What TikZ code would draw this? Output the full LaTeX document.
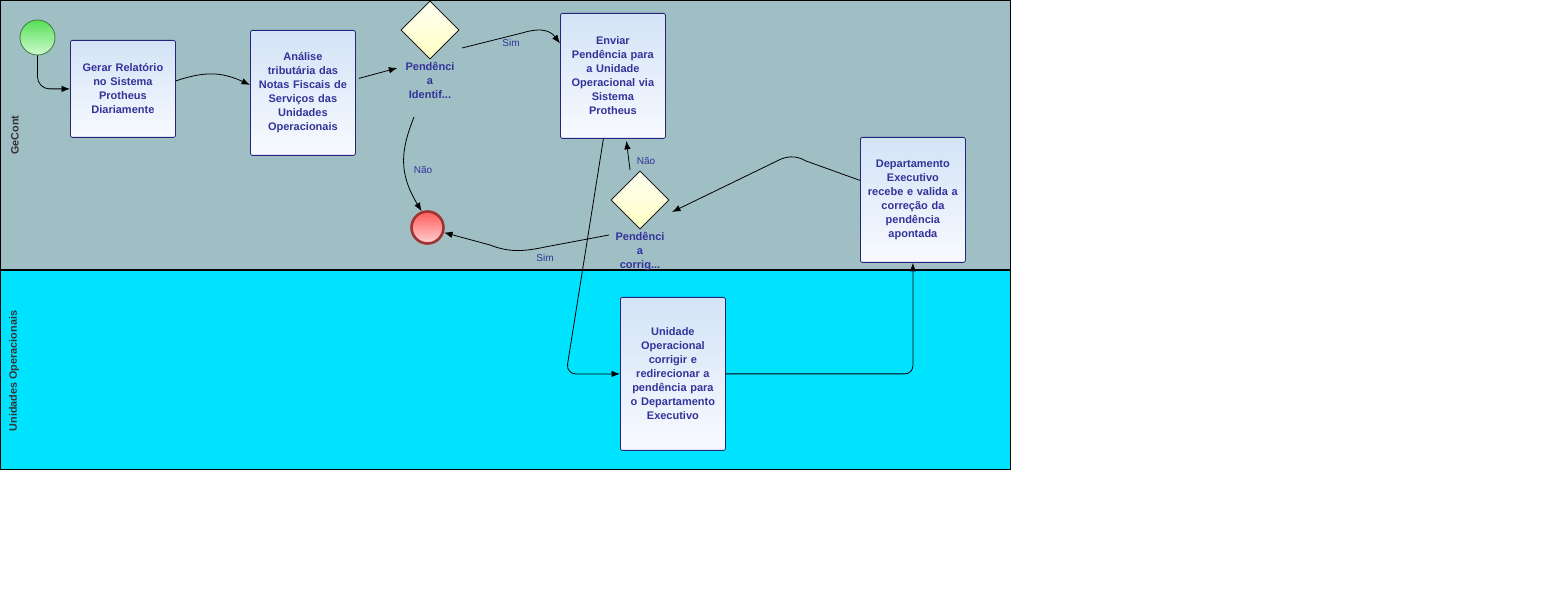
\documentclass[tikz,border=0pt]{standalone}
\usepackage{fontspec}
\setmainfont{Liberation Sans}
\usetikzlibrary{arrows.meta,shapes.geometric}
\definecolor{laneA}{HTML}{A0BFC4}
\definecolor{laneB}{HTML}{00E3FF}
\definecolor{txt}{HTML}{333399}
\definecolor{taskbd}{HTML}{25257F}
\definecolor{taskTop}{HTML}{D3E3F6}
\definecolor{taskBot}{HTML}{F8FAFF}
\definecolor{startTop}{HTML}{55E055}
\definecolor{startBot}{HTML}{D0FAD0}
\definecolor{startBd}{HTML}{3C7A3C}
\definecolor{endTop}{HTML}{FF5C5C}
\definecolor{endBot}{HTML}{FFD0D0}
\definecolor{endBd}{HTML}{A03333}
\definecolor{gwTop}{HTML}{FFFEF2}
\definecolor{gwBot}{HTML}{FFFFC4}
\definecolor{lanetxt}{HTML}{333333}
\tikzset{
  task/.style={draw=taskbd, line width=0.8pt, rounded corners=2pt, top color=taskTop, bottom color=taskBot,
    text=txt, font=\bfseries\fontsize{11}{14}\selectfont, align=center, inner sep=0pt,
    minimum width=105pt, text width=104pt, anchor=north west},
  gw/.style={diamond, draw=black, line width=0.6pt, top color=gwTop, bottom color=gwBot,
    minimum width=58pt, minimum height=58pt, inner sep=0pt},
  gwlabel/.style={text=txt, font=\bfseries\fontsize{11}{14}\selectfont, align=center, inner sep=0pt, anchor=north},
  flowlabel/.style={text=txt, font=\fontsize{10}{12}\selectfont, inner sep=0pt},
  lanelabel/.style={text=lanetxt, font=\bfseries\fontsize{10.8}{13}\selectfont, rotate=90, inner sep=0pt},
  arr/.style={draw=black, line width=0.8pt, -{Latex[length=8.5pt,width=6.5pt]}},
}
\begin{document}
\begin{tikzpicture}[x=1pt,y=-1pt]
\useasboundingbox (0,0) rectangle (1543,601);
\fill[white] (0,0) rectangle (1543,601);
% lanes
\fill[laneA] (0,0) rectangle (1010,270);
\fill[laneB] (0,270) rectangle (1010,470);
\draw[line width=1pt] (0.5,0.5) rectangle (1010,470);
\draw[line width=2pt] (0,270) -- (1010,270);
\node[lanelabel] (lane1) at (15,135) {GeCont};
\node[lanelabel] (lane2) at (14,371) {Unidades Operacionais};
% events
\node[circle, draw=startBd, line width=0.8pt, top color=startTop, bottom color=startBot, minimum size=35pt, inner sep=0pt] (s) at (37.5,37.5) {};
\node[circle, draw=endBd, line width=2.6pt, top color=endTop, bottom color=endBot, minimum size=32pt, inner sep=0pt] (e) at (427.5,227.5) {};
% tasks
\node[task, minimum height=97pt] (t1) at (70,40) {Gerar Relatório\\no Sistema\\Protheus\\Diariamente};
\node[task, minimum height=125pt] (t2) at (250,30) {Análise\\tributária das\\Notas Fiscais de\\Serviços das\\Unidades\\Operacionais};
\node[task, minimum height=125pt] (t3) at (560,13) {Enviar\\Pendência para\\a Unidade\\Operacional via\\Sistema\\Protheus};
\node[task, minimum height=125pt] (t4) at (860,137) {Departamento\\Executivo\\recebe e valida a\\correção da\\pendência\\apontada};
\node[task, minimum height=153pt] (t5) at (620,297) {Unidade\\Operacional\\corrigir e\\redirecionar a\\pendência para\\o Departamento\\Executivo};
% gateways
\node[gw] (g1) at (430,30) {};
\node[gwlabel] (g1l) at (430,62.5) {Pendênci\\a\\Identif...};
\node[gw] (g2) at (640,200) {};
\node[gwlabel] (g2l) at (640,232.5) {Pendênci\\a\\corrig...};
% flows
\draw[arr, rounded corners=12pt] (s.south) |- (t1.west);
\draw[arr] ([shift={(0,-8)}]t1.east) .. controls (205,71) and (222,72) .. ([shift={(0,-8)}]t2.west);
\draw[arr] ([shift={(3,-14.5)}]t2.east) -- ([shift={(-8,5.5)}]g1l.north west);
\draw[arr] ([shift={(32,18)}]g1.center) -- (522,33) .. controls (545,26) and (552,33) .. ([shift={(0,-32.5)}]t3.west);
\node[flowlabel] (l1) at (511,43) {Sim};
\draw[arr] ([shift={(-16,87)}]g1.center) .. controls (401,150) and (398,172) .. (e.110);
\node[flowlabel] (l2) at (423,170) {Não};
\draw[arr, rounded corners=10pt] ([shift={(-9.5,0)}]t3.south) -- (566,374) -- (t5.west);
\draw[arr, rounded corners=8pt] (t5.east) -| (t4.south);
\draw[arr] ([shift={(0,-19.5)}]t4.west) -- (806,161) .. controls (796,155) and (786,156) .. (777,161) -- ([shift={(32,12)}]g2.center);
\draw[arr] ([shift={(-10,-30)}]g2.center) -- ([shift={(13.5,2)}]t3.south);
\node[flowlabel] (l3) at (646,161) {Não};
\draw[arr] ([shift={(-31,35)}]g2.center) -- (545,247) .. controls (522,252) and (508,252) .. (490,245) -- (e.-17);
\node[flowlabel] (l4) at (545,258) {Sim};
\end{tikzpicture}
\end{document}
